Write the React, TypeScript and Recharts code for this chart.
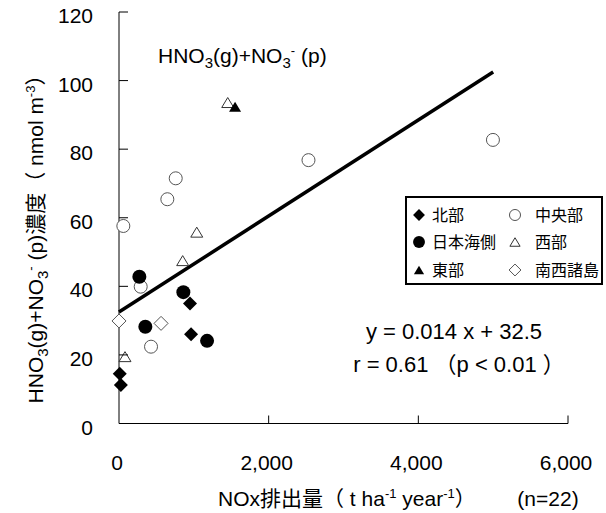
import { ScatterChart, Scatter, XAxis, YAxis, ReferenceLine, Legend } from 'recharts';

// NOx emission (t/ha/year) vs HNO3(g)+NO3-(p) concentration (nmol/m3), grouped by region
const hokubu = [
  { x: 10, y: 14.5 },
  { x: 25, y: 11.2 },
  { x: 963, y: 26.0 },
  { x: 949, y: 35.0 },
];
const chuobu = [
  { x: 58, y: 57.6 },
  { x: 290, y: 39.9 },
  { x: 428, y: 22.4 },
  { x: 646, y: 65.4 },
  { x: 758, y: 71.5 },
  { x: 2532, y: 76.8 },
  { x: 4997, y: 82.7 },
];
const nihonkaigawa = [
  { x: 272, y: 42.8 },
  { x: 352, y: 28.2 },
  { x: 860, y: 38.3 },
  { x: 1177, y: 24.1 },
];
const seibu = [
  { x: 80, y: 19.5 },
  { x: 851, y: 47.5 },
  { x: 1039, y: 55.8 },
  { x: 1453, y: 93.6 },
];
const tobu = [{ x: 1551, y: 92.4 }];
const nanseiShoto = [
  { x: 0, y: 29.9 },
  { x: 562, y: 29.2 },
];

const X_TICKS = [0, 2000, 4000, 6000];
const Y_TICKS = [0, 20, 40, 60, 80, 100, 120];

// regression: y = 0.014 x + 32.5
const SLOPE = 0.014;
const INTERCEPT = 32.5;
const FIT_RANGE = [0, 5000];
const fitSegment = FIT_RANGE.map((x) => ({ x, y: SLOPE * x + INTERCEPT }));

const FONT = '"Liberation Sans", Arial, "Noto Sans CJK JP", sans-serif';

type Marker = 'diamond' | 'circle' | 'triangle' | 'openCircle' | 'openTriangle' | 'openDiamond';

function drawMarker(kind: Marker, cx: number, cy: number, s = 1) {
  const d = 7 * s;
  switch (kind) {
    case 'diamond':
      return <path d={`M${cx},${cy - d}L${cx + d},${cy}L${cx},${cy + d}L${cx - d},${cy}Z`} fill="#000" />;
    case 'openDiamond':
      return (
        <path
          d={`M${cx},${cy - d}L${cx + d},${cy}L${cx},${cy + d}L${cx - d},${cy}Z`}
          fill="#fff"
          stroke="#555"
          strokeWidth={1}
        />
      );
    case 'circle':
      return <circle cx={cx} cy={cy} r={7 * s} fill="#000" />;
    case 'openCircle':
      return <circle cx={cx} cy={cy} r={6.5 * s} fill="#fff" stroke="#555" strokeWidth={1} />;
    case 'triangle':
      return (
        <path d={`M${cx},${cy - 5 * s}L${cx + 6 * s},${cy + 5 * s}L${cx - 6 * s},${cy + 5 * s}Z`} fill="#000" />
      );
    case 'openTriangle':
      return (
        <path
          d={`M${cx},${cy - 5 * s}L${cx + 6 * s},${cy + 5 * s}L${cx - 6 * s},${cy + 5 * s}Z`}
          fill="#fff"
          stroke="#333"
          strokeWidth={1}
        />
      );
  }
}

const series: { name: string; data: { x: number; y: number }[]; marker: Marker }[] = [
  { name: '北部', data: hokubu, marker: 'diamond' },
  { name: '中央部', data: chuobu, marker: 'openCircle' },
  { name: '日本海側', data: nihonkaigawa, marker: 'circle' },
  { name: '西部', data: seibu, marker: 'openTriangle' },
  { name: '東部', data: tobu, marker: 'triangle' },
  { name: '南西諸島', data: nanseiShoto, marker: 'openDiamond' },
];

function YTick({ x, y, payload }: any) {
  return (
    <g>
      {payload.value > 0 && <line x1={x} x2={x + 9} y1={y} y2={y} stroke="#000" />}
      <text x={x - 26} y={y + 3.5} textAnchor="end" dominantBaseline="central" fontSize={21} fill="#000" fontFamily={FONT}>
        {payload.value}
      </text>
    </g>
  );
}

function XTick({ x, y, payload }: any) {
  return (
    <g>
      {payload.value > 0 && <line x1={x} x2={x} y1={y} y2={y - 8} stroke="#000" />}
      <text x={x - 2} y={y + 38.5} textAnchor="middle" dominantBaseline="central" fontSize={21} fill="#000" fontFamily={FONT}>
        {payload.value.toLocaleString('en-US')}
      </text>
    </g>
  );
}

function RegionLegend() {
  const cols = [14, 110];
  const rows = [19, 46, 74];
  return (
    <svg width={198} height={89} style={{ display: 'block' }}>
      <rect x={1} y={1} width={196} height={87} fill="#fff" stroke="#000" strokeWidth={2} />
      {series.map((s, i) => {
        const cx = cols[i % 2];
        const cy = rows[Math.floor(i / 2)];
        return (
          <g key={s.name}>
            {drawMarker(s.marker, cx, cy, 0.85)}
            <text x={cx + (i % 2 ? 20 : 13)} y={cy} dominantBaseline="central" fontSize={16} fontFamily={FONT} fill="#000">
              {s.name}
            </text>
          </g>
        );
      })}
    </svg>
  );
}

export default function App() {
  return (
    <div style={{ position: 'absolute', left: 0, top: 0, width: 606, height: 513, background: '#fff', fontFamily: FONT }}>
      <ScatterChart width={606} height={513} margin={{ top: 12, right: 38, bottom: 0, left: 0 }}>
        <XAxis
          type="number"
          dataKey="x"
          domain={[0, 6000]}
          ticks={X_TICKS}
          height={89.5}
          tickSize={0}
          tickMargin={0}
          tick={<XTick />}
          axisLine={{ stroke: '#000', strokeWidth: 1 }}
          tickLine={false}
        />
        <YAxis
          type="number"
          dataKey="y"
          domain={[0, 120]}
          ticks={Y_TICKS}
          width={119}
          tickSize={0}
          tickMargin={0}
          tick={<YTick />}
          axisLine={{ stroke: '#000', strokeWidth: 1 }}
          tickLine={false}
        />
        <ReferenceLine
          segment={fitSegment}
          stroke="#000"
          strokeWidth={3.5}
          ifOverflow="visible"
        />
        {series.map((s) => (
          <Scatter
            key={s.name}
            name={s.name}
            data={s.data}
            isAnimationActive={false}
            shape={(p: any) => drawMarker(s.marker, p.cx, p.cy)}
          />
        ))}
        <Legend
          layout="horizontal"
          verticalAlign="middle"
          align="center"
          content={() => <RegionLegend />}
          wrapperStyle={{ left: 405, top: 196, width: 198, height: 89 }}
        />
      </ScatterChart>
      <svg
        width={606}
        height={513}
        style={{ position: 'absolute', left: 0, top: 0, pointerEvents: 'none' }}
        fontFamily={FONT}
        fill="#000"
      >
        <text x={158} y={63} fontSize={21}>
          HNO<tspan dy={5} fontSize={15}>3</tspan>
          <tspan dy={-5}>(g)+NO</tspan>
          <tspan dy={5} fontSize={15}>3</tspan>
          <tspan dy={-13} fontSize={13}>-</tspan>
          <tspan dy={8}> (p)</tspan>
        </text>
        <text x={454} y={339} fontSize={22} textAnchor="middle">
          y = 0.014 x + 32.5
        </text>
        <text x={459} y={372} fontSize={22} textAnchor="middle">
          r = 0.61 （p &lt; 0.01 ）
        </text>
        <text transform="translate(43,234) rotate(-90)" fontSize={21} textAnchor="middle">
          HNO<tspan dy={5} fontSize={15}>3</tspan>
          <tspan dy={-5}>(g)+NO</tspan>
          <tspan dy={5} fontSize={15}>3</tspan>
          <tspan dy={-13} fontSize={13}>-</tspan>
          <tspan dy={8}> (p)濃度（ nmol m</tspan>
          <tspan dy={-8} fontSize={13}>-3</tspan>
          <tspan dy={8}>）</tspan>
        </text>
        <text x={218} y={506} fontSize={21}>
          NOx排出量（ t ha<tspan dy={-8} fontSize={13}>-1</tspan>
          <tspan dy={8}> year</tspan>
          <tspan dy={-8} fontSize={13}>-1</tspan>
          <tspan dy={8}>）</tspan>
        </text>
        <text x={548} y={506} fontSize={21} textAnchor="middle">
          (n=22)
        </text>
      </svg>
    </div>
  );
}
